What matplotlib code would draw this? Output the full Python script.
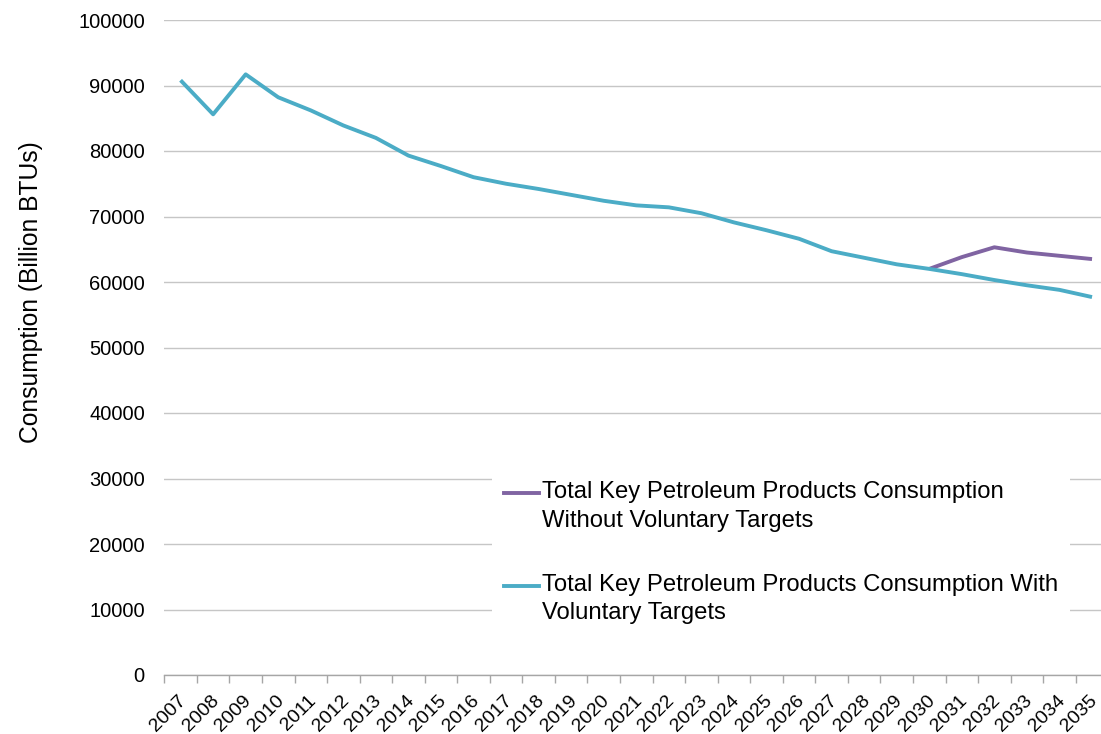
import matplotlib
matplotlib.use("Agg")
import matplotlib.pyplot as plt
import numpy as np
from matplotlib.lines import Line2D
from matplotlib.patches import Rectangle
from matplotlib.transforms import ScaledTranslation

# Consumption in billion BTUs, 2007-2035
years = list(range(2007, 2036))
with_targets = [90800, 85600, 91700, 88200, 86200, 83900, 82000, 79300, 77700, 76000,
                75000, 74200, 73300, 72400, 71700, 71400, 70500, 69100, 67900, 66600,
                64700, 63700, 62700, 62000, 61200, 60300, 59500, 58800, 57700]
# the two scenarios only split after 2030
without_targets = [np.nan] * 23 + [62000, 63800, 65300, 64500, 64000, 63500]

series_labels = ["Total Key Petroleum Products Consumption\nWithout Voluntary Targets",
                 "Total Key Petroleum Products Consumption With\nVoluntary Targets"]
colors = ["#8064A2", "#4BACC6"]

W, H = 1101, 734
plt.rcParams['font.family'] = ['Liberation Sans', 'DejaVu Sans']
fig = plt.figure(figsize=(W / 100, H / 100), dpi=100)

def fx(x):
    return x / W

def fy(y):
    return 1 - y / H

# plot area runs a little past the right edge of the figure
ax = fig.add_axes([fx(164.3), fy(675), fx(944), 655 / H])
x = np.arange(len(years))
ax.plot(x, without_targets, color=colors[0], lw=2.8, solid_capstyle='butt', zorder=3)
ax.plot(x, with_targets, color=colors[1], lw=2.8, solid_capstyle='butt', zorder=4)

ax.set_xlim(-0.5, len(years) - 0.5)
ax.set_ylim(0, 100000)
ax.set_yticks(np.arange(0, 100001, 10000))
ax.yaxis.grid(True, color="#C6C6C6", lw=1)
ax.set_axisbelow(True)
for side in ["left", "right", "top"]:
    ax.spines[side].set_visible(False)
ax.spines["bottom"].set_color("#A6A6A6")
ax.spines["bottom"].set_linewidth(1)

ax.tick_params(axis='y', length=0, pad=14, labelsize=14.5, labelcolor="#000000")
ax.set_xticks(x)
ax.set_xticklabels([str(yr) for yr in years], rotation=45, ha='right', va='center',
                   rotation_mode='anchor', fontsize=14)
ax.tick_params(axis='x', which='major', length=0, pad=16.5)
ax.set_xticks(np.arange(-0.5, len(years) - 0.4, 1), minor=True)
ax.tick_params(axis='x', which='minor', length=5.5, color="#A6A6A6", width=1)
shift = ScaledTranslation(0.03, 0, fig.dpi_scale_trans)
for lab in ax.get_xticklabels():
    lab.set_transform(lab.get_transform() + shift)

fig.text(fx(31), fy(292), "Consumption (Billion BTUs)", rotation=90,
         ha='center', va='center', fontsize=17.7)

# legend box
fig.patches.append(Rectangle((fx(492), fy(632)), fx(1070 - 492), (632 - 468) / H,
                             transform=fig.transFigure, facecolor='white',
                             edgecolor='none', zorder=5))
handle_y = [493.3, 585.7]
text_top = [481, 573.5]
for label, color, hy, ty in zip(series_labels, colors, handle_y, text_top):
    fig.lines.append(Line2D([fx(504), fx(539)], [fy(hy), fy(hy)], transform=fig.transFigure,
                            color=color, lw=2.8, zorder=6))
    fig.text(fx(541.5), fy(ty), label, ha='left', va='top', fontsize=17.2,
             linespacing=1.4, zorder=6)

fig.savefig("out.png", dpi=100)
